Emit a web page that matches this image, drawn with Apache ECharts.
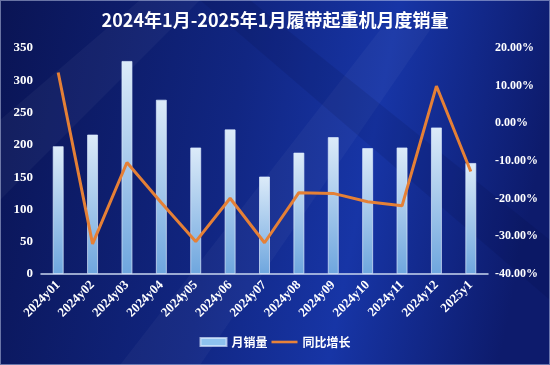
<!DOCTYPE html>
<html>
<head>
<meta charset="utf-8">
<script src="https://cdn.jsdelivr.net/npm/echarts@6/dist/echarts.min.js"></script>
<style>
html,body{margin:0;padding:0;background:#0b1660;}
#c{width:550px;height:365px;}
</style>
</head>
<body>
<div id="c"></div>
<script>
var categories = ['2024y01','2024y02','2024y03','2024y04','2024y05','2024y06','2024y07','2024y08','2024y09','2024y10','2024y11','2024y12','2025y1'];
var salesValues = [198, 216, 330, 270, 196, 224, 151, 188, 212, 195, 196, 227, 172];
var yoyValues = [13.5, -32.0, -10.4, -21.1, -31.4, -19.9, -31.7, -18.4, -18.6, -20.8, -21.9, 9.9, -12.8];
var leftTicks = [0, 350, 50];
var rightTicks = [-40, 20, 10];

var chart = echarts.init(document.getElementById('c'));
var serif = '"Liberation Serif", "DejaVu Serif", serif';
chart.setOption({
  animation: false,
  backgroundColor: {
    type: 'linear', x: 0, y: 0, x2: 1, y2: 0.3,
    colorStops: [
      {offset: 0, color: '#0a1454'},
      {offset: 0.45, color: '#112682'},
      {offset: 0.7, color: '#1735a6'},
      {offset: 1, color: '#0d1b6c'}
    ]
  },
  graphic: [
    {type: 'polygon', silent: true, z: -1, shape: {points: [[0,120],[140,0],[200,0],[0,200]]}, style: {fill: 'rgba(255,255,255,0.04)'}},
    {type: 'polygon', silent: true, z: -1, shape: {points: [[120,365],[380,30],[430,30],[200,365]]}, style: {fill: 'rgba(255,255,255,0.035)'}},
    {type: 'polygon', silent: true, z: -1, shape: {points: [[250,0],[550,240],[550,300],[200,0]]}, style: {fill: 'rgba(0,0,40,0.10)'}},
    {type: 'rect', silent: true, z: -1, shape: {x: 0, y: 0, width: 550, height: 365}, style: {fill: 'none', stroke: 'rgba(200,210,240,0.5)', lineWidth: 2}}
  ],
  title: {
    text: '2024年1月-2025年1月履带起重机月度销量',
    left: 'center', top: 6,
    textStyle: {color: '#ffffff', fontSize: 18, fontWeight: 'bold', fontFamily: '"Noto Sans CJK SC", sans-serif'}
  },
  legend: {
    bottom: 12, left: 'center', itemGap: 4, itemWidth: 26, itemHeight: 8,
    textStyle: {color: '#ffffff', fontSize: 12, fontFamily: '"Noto Sans CJK SC", sans-serif', fontWeight: 'bold'},
    data: [
      {name: '月销量', icon: 'rect', itemStyle: {color: '#8ec2ee'}},
      {name: '同比增长', icon: 'path://M0,0 L10,0 L10,1 L0,1 Z', itemStyle: {color: '#e8823a'}}
    ]
  },
  grid: {left: 41, right: 62, top: 48, bottom: 91},
  xAxis: {
    type: 'category', data: categories,
    axisLine: {lineStyle: {color: '#c9d6f0', width: 1.5}},
    axisTick: {show: false},
    axisLabel: {color: '#ffffff', rotate: 45, fontSize: 13, fontFamily: serif, fontWeight: 'bold', margin: 9}
  },
  yAxis: [
    {
      type: 'value', min: leftTicks[0], max: leftTicks[1], interval: leftTicks[2],
      splitLine: {show: false}, axisLine: {show: false}, axisTick: {show: false},
      axisLabel: {color: '#ffffff', fontSize: 13, fontFamily: serif, fontWeight: 'bold', margin: 8}
    },
    {
      type: 'value', min: rightTicks[0], max: rightTicks[1], interval: rightTicks[2],
      splitLine: {show: false}, axisLine: {show: false}, axisTick: {show: false},
      axisLabel: {color: '#ffffff', fontSize: 12, fontFamily: serif, fontWeight: 'bold', margin: 7,
        formatter: function (v) { return v.toFixed(2) + '%'; }}
    }
  ],
  series: [
    {
      name: '月销量', type: 'bar', data: salesValues, barWidth: 11, yAxisIndex: 0,
      itemStyle: {
        color: {type: 'linear', x: 0, y: 0, x2: 0, y2: 1, colorStops: [
          {offset: 0, color: '#dcebf9'}, {offset: 1, color: '#6ea6de'}]},
        borderColor: 'rgba(220,235,255,0.7)', borderWidth: 1
      }
    },
    {
      name: '同比增长', type: 'line', data: yoyValues, yAxisIndex: 1,
      symbol: 'none', lineStyle: {color: '#e58036', width: 3},
      itemStyle: {color: '#e58036'}
    }
  ]
});
</script>
</body>
</html>
